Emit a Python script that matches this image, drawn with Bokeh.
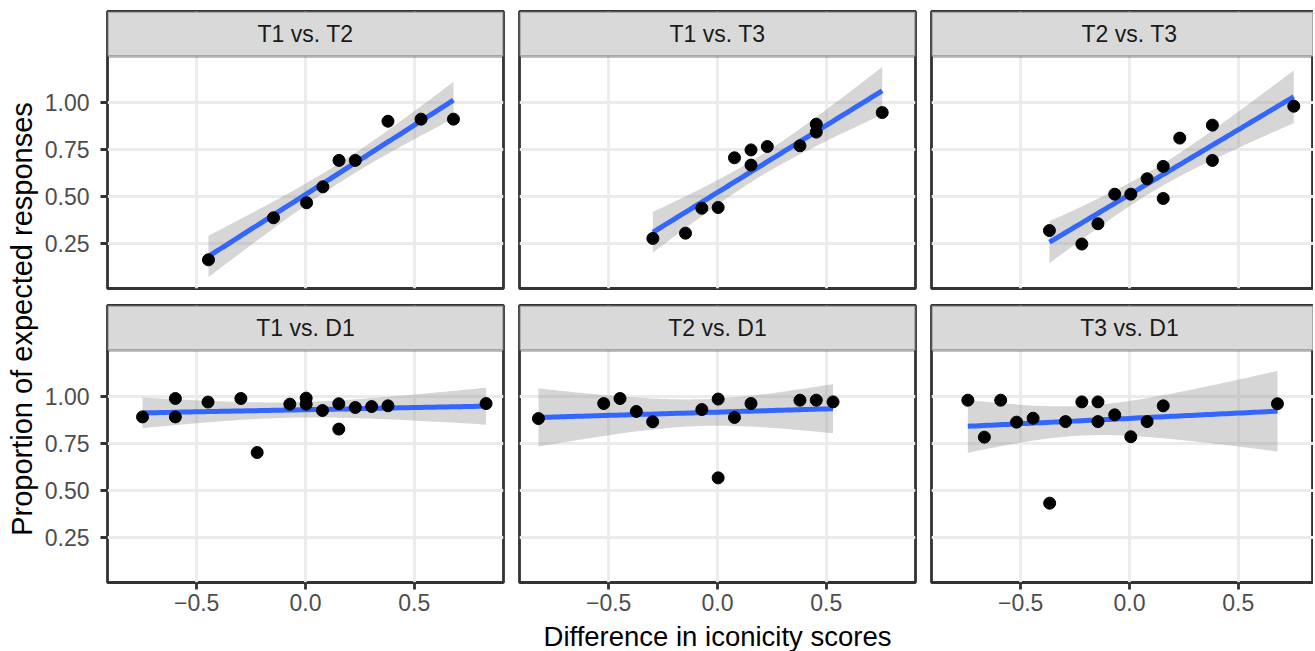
import numpy as np
from bokeh.plotting import figure
from bokeh.layouts import row, column
from bokeh.models import FixedTicker, BoxAnnotation, Label, Range1d
from bokeh.embed import file_html
from bokeh.resources import INLINE

# ---------------- data ----------------
panel_titles = ["T1 vs. T2", "T1 vs. T3", "T2 vs. T3",
                "T1 vs. D1", "T2 vs. D1", "T3 vs. D1"]

x_t1_t2 = [-0.446, -0.147, 0.005, 0.080, 0.154, 0.229, 0.379, 0.531, 0.680]
y_t1_t2 = [0.163, 0.387, 0.467, 0.552, 0.693, 0.693, 0.902, 0.913, 0.913]

x_t1_t3 = [-0.297, -0.147, -0.072, 0.003, 0.078, 0.154, 0.154, 0.229, 0.379, 0.454, 0.454, 0.757]
y_t1_t3 = [0.277, 0.305, 0.438, 0.442, 0.707, 0.749, 0.668, 0.767, 0.771, 0.886, 0.844, 0.948]

x_t2_t3 = [-0.368, -0.219, -0.145, -0.068, 0.006, 0.081, 0.155, 0.155, 0.231, 0.381, 0.381, 0.755]
y_t2_t3 = [0.319, 0.247, 0.355, 0.513, 0.513, 0.595, 0.661, 0.490, 0.812, 0.881, 0.693, 0.982]

x_t1_d1 = [-0.749, -0.598, -0.598, -0.448, -0.297, -0.222, -0.072, 0.003, 0.003, 0.078,
           0.153, 0.153, 0.229, 0.304, 0.379, 0.830]
y_t1_d1 = [0.893, 0.991, 0.893, 0.972, 0.991, 0.703, 0.961, 0.993, 0.961, 0.927,
           0.963, 0.828, 0.943, 0.948, 0.952, 0.964]

x_t2_d1 = [-0.823, -0.523, -0.448, -0.373, -0.298, -0.072, 0.003, 0.003, 0.078, 0.154,
           0.379, 0.454, 0.531]
y_t2_d1 = [0.884, 0.964, 0.991, 0.922, 0.867, 0.932, 0.988, 0.568, 0.890, 0.964,
           0.982, 0.982, 0.973]

x_t3_d1 = [-0.743, -0.667, -0.592, -0.519, -0.443, -0.367, -0.294, -0.219, -0.145, -0.145,
           -0.068, 0.006, 0.081, 0.155, 0.680]
y_t3_d1 = [0.982, 0.785, 0.982, 0.865, 0.886, 0.433, 0.868, 0.973, 0.973, 0.868,
           0.904, 0.787, 0.868, 0.952, 0.963]

panel_x = [x_t1_t2, x_t1_t3, x_t2_t3, x_t1_d1, x_t2_d1, x_t3_d1]
panel_y = [y_t1_t2, y_t1_t3, y_t2_t3, y_t1_d1, y_t2_d1, y_t3_d1]

x_ticks = [-0.5, 0.0, 0.5]
x_tick_labels = ["\u22120.5", "0.0", "0.5"]
y_ticks = [0.25, 0.5, 0.75, 1.0]
y_tick_labels = ["0.25", "0.50", "0.75", "1.00"]
x_title = "Difference in iconicity scores"
y_title = "Proportion of expected responses"

# two-sided 95% t quantiles by degrees of freedom
T975 = {5: 2.571, 6: 2.447, 7: 2.365, 8: 2.306, 9: 2.262, 10: 2.228, 11: 2.201,
        12: 2.179, 13: 2.160, 14: 2.145, 15: 2.131, 16: 2.120}

# ---------------- layout / style ----------------
FONT = "Liberation Sans"
X_LO, X_HI = -0.91, 0.91
Y_LO, Y_HI = 0.010, 1.247
PANEL_W = 396
PANEL_W_LAST = 382
PANEL_H = 232
STRIP_H = 45
FRAME_H = PANEL_H + STRIP_H
PX_PER_Y = PANEL_H / (Y_HI - Y_LO)
PX_PER_X = PANEL_W / (X_HI - X_LO)
Y_TOP = Y_HI + STRIP_H / PX_PER_Y
BORDER = "#333333"
LW = 2.8
YT_W = 40
LEFT_MB = 107 - YT_W
ROW1_H = 11 + FRAME_H + 8
ROW2_BOTTOM = 38
XT_H = 31
TOTAL_H = ROW1_H + 9 + FRAME_H + ROW2_BOTTOM + XT_H


def lm_band(xs, ys, n=80):
    x = np.asarray(xs, dtype=float)
    y = np.asarray(ys, dtype=float)
    n_obs = len(x)
    b1, b0 = np.polyfit(x, y, 1)
    grid = np.linspace(x.min(), x.max(), n)
    fit = b0 + b1 * grid
    resid = y - (b0 + b1 * x)
    s = np.sqrt(np.sum(resid ** 2) / (n_obs - 2))
    sxx = np.sum((x - x.mean()) ** 2)
    se = s * np.sqrt(1.0 / n_obs + (grid - x.mean()) ** 2 / sxx)
    t = T975[n_obs - 2]
    return grid, fit, fit - t * se, fit + t * se


def style_axis(ax):
    ax.axis_line_color = None
    ax.major_tick_line_color = BORDER
    ax.major_tick_line_width = LW
    ax.major_tick_out = 7
    ax.major_tick_in = 0
    ax.minor_tick_line_color = None
    ax.major_label_text_font = FONT
    ax.major_label_text_font_size = "23px"
    ax.major_label_text_color = "#4D4D4D"


def bare_figure(w, h, xr, yr):
    f = figure(width=w, height=h, x_range=Range1d(*xr), y_range=Range1d(*yr),
               x_axis_location=None, y_axis_location=None, toolbar_location=None,
               output_backend="svg", min_border=0, min_border_left=0, min_border_right=0,
               min_border_top=0, min_border_bottom=0)
    f.outline_line_color = None
    f.grid.visible = False
    f.background_fill_color = "white"
    f.border_fill_color = "white"
    return f


def make_panel(idx):
    col = idx % 3
    r = idx // 3
    fw = PANEL_W if col < 2 else PANEL_W_LAST
    x_end = X_LO + fw / PX_PER_X
    mb_left = LEFT_MB if col == 0 else 8
    mb_right = 8 if col < 2 else 0
    mb_top = 11 if r == 0 else 9
    mb_bottom = 8 if r == 0 else ROW2_BOTTOM
    p = figure(width=mb_left + fw + mb_right, height=mb_top + FRAME_H + mb_bottom,
               x_range=Range1d(X_LO, x_end), y_range=Range1d(Y_LO, Y_TOP),
               x_axis_location="below" if r == 1 else None,
               y_axis_location="left" if col == 0 else None,
               toolbar_location=None, output_backend="svg",
               min_border_left=mb_left, min_border_right=mb_right,
               min_border_top=mb_top, min_border_bottom=mb_bottom)
    p.background_fill_color = "white"
    p.border_fill_color = "white"
    p.outline_line_color = BORDER
    p.outline_line_width = LW

    p.xgrid.ticker = FixedTicker(ticks=x_ticks)
    p.ygrid.ticker = FixedTicker(ticks=y_ticks)
    p.grid.grid_line_color = "#EBEBEB"
    p.grid.grid_line_width = LW
    p.grid.minor_grid_line_color = None

    if r == 1:
        ax = p.xaxis[0]
        ax.ticker = FixedTicker(ticks=x_ticks)
        ax.major_label_overrides = dict(zip(x_ticks, x_tick_labels))
        style_axis(ax)
        ax.major_label_standoff = 4
    if col == 0:
        ay = p.yaxis[0]
        ay.ticker = FixedTicker(ticks=y_ticks)
        ay.major_label_overrides = dict(zip(y_ticks, y_tick_labels))
        style_axis(ay)
        ay.major_label_standoff = 11

    xs, ys = panel_x[idx], panel_y[idx]
    gx, fit, lo, hi = lm_band(xs, ys)
    p.varea(x=gx, y1=lo, y2=hi, fill_color="#999999", fill_alpha=0.4)
    p.line(gx, fit, line_color="#3366FF", line_width=5)
    p.scatter(xs, ys, size=12, fill_color="black", line_color="black")

    strip = BoxAnnotation(bottom=Y_HI, fill_color="#D9D9D9", fill_alpha=1.0,
                          line_color=BORDER, line_width=LW)
    p.add_layout(strip)
    p.add_layout(Label(x=0, y=(Y_HI + Y_TOP) / 2, text=panel_titles[idx],
                       text_align="center", text_baseline="middle",
                       text_font=FONT, text_font_size="23px", text_color="#1A1A1A"))
    return p


panels = [make_panel(i) for i in range(6)]
grid_w = sum(p.width for p in panels[:3])

# x-axis title strip, centred on the middle panel column
xt = bare_figure(grid_w, XT_H, (0, grid_w), (0, XT_H))
mid_center = panels[0].width + 8 + PANEL_W / 2
xt.add_layout(Label(x=mid_center, y=XT_H / 2, text=x_title,
                    text_align="center", text_baseline="middle",
                    text_font=FONT, text_font_size="27.5px", text_color="black"))

# y-axis title column (centred on the panel rows, as ggplot does)
yt = bare_figure(YT_W, TOTAL_H, (0, YT_W), (0, TOTAL_H))
yt.add_layout(Label(x=21, y=TOTAL_H - 318.5, text=y_title, angle=np.pi / 2,
                    text_align="center", text_baseline="middle",
                    text_font=FONT, text_font_size="29px", text_color="black"))

layout = row(yt, column(row(*panels[:3]), row(*panels[3:]), xt))

open("out.html", "w").write(file_html(layout, INLINE))
